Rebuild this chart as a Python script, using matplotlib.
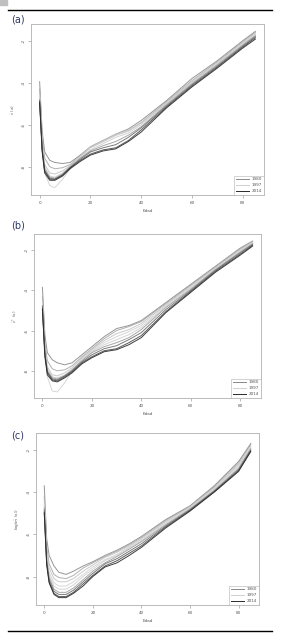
import numpy as np
import matplotlib
matplotlib.use("Agg")
import matplotlib.pyplot as plt
from matplotlib.lines import Line2D
from matplotlib.patches import Rectangle

plt.rcParams["axes.unicode_minus"] = False

# ages and years shown
ages = [0, 1, 2, 4, 6, 9, 12, 16, 20, 25, 30, 35, 40, 50, 60, 70, 80, 85]
years = [1980, 1984, 1988, 1992, 1997, 2001, 2005, 2010, 2014]
legend_years = [1980, 1997, 2014]

# panel (a): one row per year, values at each age
vals_a = [
    [-3.95, -6.3, -7.3, -7.7, -7.8, -7.85, -7.8, -7.45, -7.05, -6.75, -6.45, -6.2, -5.8, -4.85, -3.8, -2.95, -2.0, -1.55],
    [-4.3, -6.6, -7.6, -8.0, -8.1, -8.05, -7.9, -7.5, -7.1, -6.8, -6.5, -6.3, -5.9, -4.9, -3.9, -3.0, -2.05, -1.6],
    [-4.5, -6.9, -7.9, -8.3, -8.35, -8.2, -7.95, -7.5, -7.05, -6.75, -6.45, -6.25, -5.9, -4.95, -3.95, -3.05, -2.1, -1.65],
    [-4.6, -7.2, -8.3, -8.9, -9.0, -8.6, -8.1, -7.55, -7.1, -6.8, -6.5, -6.3, -5.95, -5.0, -4.0, -3.1, -2.1, -1.65],
    [-4.7, -7.0, -8.0, -8.45, -8.5, -8.3, -8.0, -7.6, -7.2, -6.9, -6.6, -6.4, -6.0, -5.0, -4.0, -3.1, -2.15, -1.7],
    [-4.8, -7.1, -8.1, -8.5, -8.55, -8.35, -8.0, -7.6, -7.25, -7.0, -6.8, -6.5, -6.1, -5.05, -4.05, -3.15, -2.2, -1.75],
    [-4.85, -7.15, -8.2, -8.55, -8.6, -8.4, -8.05, -7.65, -7.3, -7.1, -6.95, -6.6, -6.15, -5.1, -4.1, -3.2, -2.25, -1.8],
    [-4.9, -7.2, -8.2, -8.6, -8.6, -8.4, -8.05, -7.7, -7.4, -7.2, -7.1, -6.75, -6.25, -5.15, -4.15, -3.25, -2.3, -1.85],
    [-4.95, -7.3, -8.3, -8.65, -8.65, -8.45, -8.1, -7.75, -7.45, -7.25, -7.15, -6.8, -6.35, -5.2, -4.2, -3.3, -2.35, -1.92],
]

# panel (b)
vals_b = [
    [-3.85, -6.2, -7.1, -7.45, -7.6, -7.7, -7.6, -7.2, -6.8, -6.3, -5.9, -5.75, -5.5, -4.6, -3.7, -2.8, -1.9, -1.55],
    [-4.3, -6.6, -7.5, -7.9, -8.0, -7.95, -7.75, -7.3, -6.9, -6.4, -6.0, -5.8, -5.55, -4.65, -3.75, -2.85, -1.95, -1.58],
    [-4.5, -6.9, -7.8, -8.2, -8.25, -8.1, -7.85, -7.35, -6.95, -6.5, -6.15, -5.95, -5.65, -4.7, -3.8, -2.88, -1.98, -1.6],
    [-4.6, -7.2, -8.3, -9.0, -9.05, -8.6, -8.0, -7.4, -7.0, -6.6, -6.3, -6.05, -5.75, -4.75, -3.85, -2.9, -2.02, -1.62],
    [-4.65, -7.0, -7.9, -8.3, -8.35, -8.2, -7.95, -7.45, -7.05, -6.7, -6.45, -6.2, -5.85, -4.8, -3.9, -2.94, -2.06, -1.65],
    [-4.75, -7.05, -8.0, -8.35, -8.4, -8.25, -7.95, -7.5, -7.1, -6.8, -6.6, -6.35, -5.95, -4.85, -3.95, -2.97, -2.1, -1.68],
    [-4.8, -7.1, -8.05, -8.4, -8.45, -8.25, -8.0, -7.55, -7.2, -6.9, -6.75, -6.45, -6.1, -4.95, -4.0, -3.0, -2.14, -1.72],
    [-4.9, -7.2, -8.1, -8.45, -8.5, -8.3, -8.05, -7.6, -7.3, -7.0, -6.9, -6.6, -6.25, -5.05, -4.05, -3.05, -2.2, -1.76],
    [-4.95, -7.3, -8.2, -8.5, -8.55, -8.35, -8.1, -7.65, -7.35, -7.05, -6.95, -6.7, -6.35, -5.1, -4.1, -3.1, -2.25, -1.8],
]

# panel (c)
vals_c = [
    [-3.7, -6.2, -7.0, -7.5, -7.8, -7.9, -7.75, -7.5, -7.3, -7.0, -6.75, -6.45, -6.1, -5.3, -4.65, -3.7, -2.55, -1.7],
    [-4.2, -6.6, -7.4, -7.9, -8.05, -8.1, -7.95, -7.6, -7.35, -7.05, -6.8, -6.5, -6.15, -5.35, -4.68, -3.75, -2.62, -1.75],
    [-4.4, -6.8, -7.6, -8.1, -8.25, -8.25, -8.1, -7.75, -7.45, -7.1, -6.85, -6.55, -6.2, -5.4, -4.7, -3.8, -2.7, -1.8],
    [-4.55, -7.0, -7.8, -8.3, -8.45, -8.45, -8.25, -7.9, -7.55, -7.2, -6.95, -6.6, -6.25, -5.45, -4.74, -3.85, -2.75, -1.85],
    [-4.65, -7.1, -7.95, -8.45, -8.6, -8.6, -8.4, -8.0, -7.65, -7.25, -7.0, -6.65, -6.3, -5.5, -4.77, -3.88, -2.82, -1.9],
    [-4.75, -7.2, -8.05, -8.6, -8.75, -8.75, -8.55, -8.15, -7.75, -7.35, -7.05, -6.7, -6.35, -5.55, -4.8, -3.92, -2.88, -1.95],
    [-4.85, -7.3, -8.15, -8.7, -8.85, -8.85, -8.65, -8.25, -7.85, -7.4, -7.15, -6.8, -6.45, -5.6, -4.84, -3.95, -2.93, -2.0],
    [-4.95, -7.4, -8.25, -8.8, -8.95, -8.95, -8.75, -8.35, -7.95, -7.5, -7.25, -6.9, -6.55, -5.65, -4.87, -3.98, -2.98, -2.05],
    [-5.0, -7.45, -8.3, -8.85, -9.0, -9.0, -8.8, -8.45, -8.0, -7.55, -7.35, -7.0, -6.62, -5.7, -4.9, -4.0, -3.02, -2.08],
]

ylabels = [r"$\hat{\varepsilon}$ (x)", r"$\hat{\varepsilon}^*$ (x)", r"log($\hat{m}$ (x))"]
panel_tags = ["(a)", "(b)", "(c)"]

# grey shade per year (1980 mid, 1997 light, 2014 dark)
shades = ["#8a8a8a", "#a8a8a8", "#c4c4c4", "#d2d2d2", "#cfcfcf", "#9e9e9e", "#6e6e6e", "#474747", "#2a2a2a"]
year_col = dict(zip(years, shades))

W, H = 283, 641
fig = plt.figure(figsize=(W / 100, H / 100), dpi=100)

# axes boxes in pixels: left, right, top, bottom
boxes = [(31, 264, 24, 195), (34, 261, 234, 398), (36, 259, 433, 605)]
tag_pos = [(11, 20), (11, 225), (11, 435)]

for k, vals in enumerate([vals_a, vals_b, vals_c]):
    l, r, t, b = boxes[k]
    ax = fig.add_axes([l / W, 1 - b / H, (r - l) / W, (b - t) / H])
    for yr, row in zip(years, vals):
        ax.plot(ages, row, color=year_col[yr], lw=0.7, alpha=0.9)
    ax.set_xlim(-3.4, 88.4)
    ax.set_ylim(-9.35, -1.2)
    ax.set_xticks([0, 20, 40, 60, 80])
    ax.set_yticks([-2, -4, -6, -8])
    for s in ax.spines.values():
        s.set_color("#b0b0b0")
        s.set_linewidth(0.6)
    ax.tick_params(length=2, width=0.5, color="#a0a0a0", labelsize=3,
                   labelcolor="#555555", pad=2)
    ax.tick_params(axis="y", labelrotation=90)
    for lab in ax.get_yticklabels():
        lab.set_va("center")
    ax.set_xlabel("Edad", fontsize=3, color="#555555", labelpad=3)
    ax.set_ylabel(ylabels[k], fontsize=3, color="#555555", labelpad=3)
    handles = [Line2D([], [], color=year_col[y], lw=0.7) for y in legend_years]
    leg = ax.legend(handles, [str(y) for y in legend_years], loc="lower right",
                    fontsize=3, frameon=True, fancybox=False, borderaxespad=0,
                    handlelength=3, labelcolor="#555555")
    leg.get_frame().set_edgecolor("#b0b0b0")
    leg.get_frame().set_linewidth(0.5)
    tx, ty = tag_pos[k]
    fig.text(tx / W, 1 - ty / H, panel_tags[k], fontsize=7, color="#2f3a66",
             va="center", ha="left")

# page rules and corner mark
fig.add_artist(Line2D([8 / W, 272 / W], [1 - 10 / H] * 2, color="black", lw=1))
fig.add_artist(Line2D([8 / W, 272 / W], [1 - 631 / H] * 2, color="black", lw=1))
fig.add_artist(Rectangle((0, 1 - 5 / H), 7 / W, 5 / H, color="#c0c0c0",
                         transform=fig.transFigure))

fig.savefig("out.png", dpi=100)
